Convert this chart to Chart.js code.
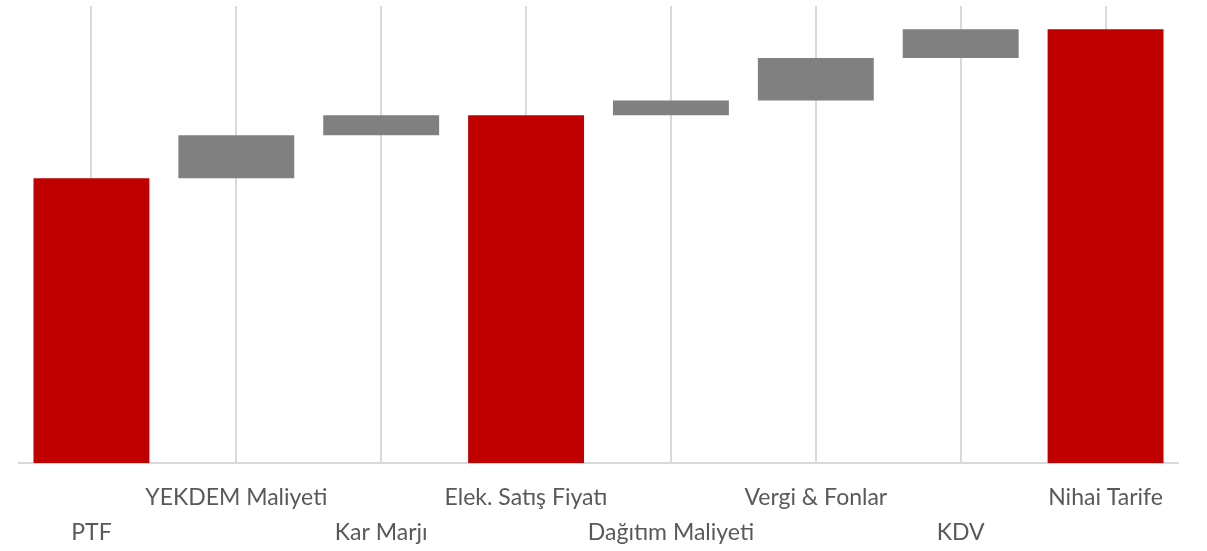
<!DOCTYPE html>
<html>
<head>
<meta charset="utf-8">
<script src="https://cdn.jsdelivr.net/npm/chart.js@4"></script>
<style>
  html, body { margin: 0; padding: 0; background: #fff; }
  #wrap { width: 1207px; height: 551px; position: relative; }
</style>
</head>
<body>
<div id="wrap"><canvas id="waterfall"></canvas></div>
<script>
// Waterfall data (floating bars: start -> end)
const categories = ['PTF', 'YEKDEM Maliyeti', 'Kar Marjı', 'Elek. Satış Fiyatı', 'Dağıtım Maliyeti', 'Vergi & Fonlar', 'KDV', 'Nihai Tarife'];
const barStart = [0, 62.3, 71.7, 0, 76.1, 79.3, 88.6, 0];
const barEnd = [62.3, 71.7, 76.1, 76.1, 79.3, 88.6, 94.9, 94.9];
const isTotal = [true, false, false, true, false, false, false, true];
// labels alternate between the lower row and the upper row
const labelRow = [1, 0, 1, 0, 1, 0, 1, 0];

const labels = categories.map((c, i) => labelRow[i] === 0 ? [c, ''] : ['', c]);

const ctx = document.getElementById('waterfall');
new Chart(ctx, {
  type: 'bar',
  data: {
    labels: labels,
    datasets: [{
      data: barStart.map((s, i) => [s, barEnd[i]]),
      backgroundColor: isTotal.map(t => t ? '#C00000' : '#808080'),
      borderWidth: 0,
      borderSkipped: false,
      barPercentage: 0.8,
      categoryPercentage: 1
    }]
  },
  options: {
    responsive: true,
    maintainAspectRatio: false,
    animation: false,
    layout: { padding: { left: 19, right: 29, top: 6, bottom: 0 } },
    plugins: { legend: { display: false }, tooltip: { enabled: false } },
    scales: {
      x: {
        afterFit: scale => { scale.height = 88; },
        grid: { offset: false, color: '#d9d9d9', lineWidth: 2, drawTicks: false },
        border: { color: '#d9d9d9', width: 2 },
        ticks: {
          color: '#595959',
          padding: 17,
          maxRotation: 0,
          autoSkip: false,
          font: { family: 'Lato', size: 23, lineHeight: 1.52 }
        }
      },
      y: {
        display: false,
        min: 0,
        max: 100
      }
    }
  }
});
</script>
</body>
</html>
